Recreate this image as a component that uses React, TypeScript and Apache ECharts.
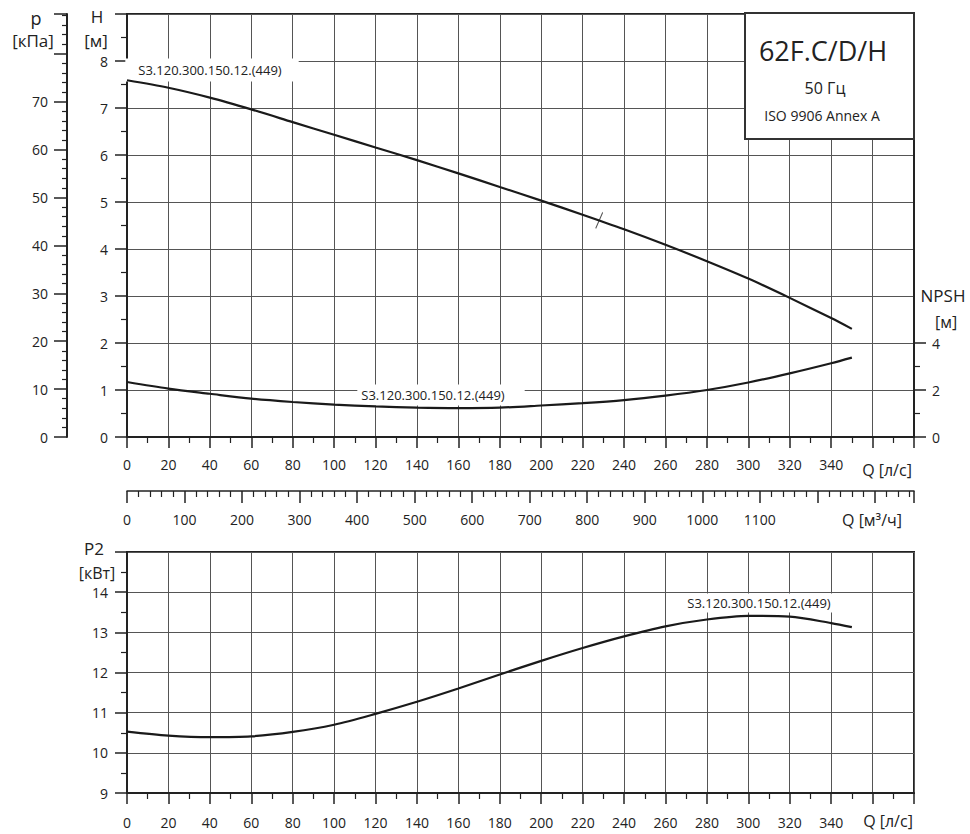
import React, { useEffect, useRef } from "react";
import * as echarts from "echarts";

// Flow rate points [l/s]
const Q = [0, 20, 40, 60, 80, 100, 120, 140, 160, 180, 200, 220, 240, 260, 280, 300, 320, 340, 350];
// Head H [m]
const H = [7.59, 7.43, 7.22, 6.97, 6.7, 6.43, 6.16, 5.89, 5.61, 5.32, 5.03, 4.73, 4.42, 4.09, 3.74, 3.37, 2.96, 2.53, 2.3];
// NPSH [m]
const NPSH = [2.34, 2.06, 1.84, 1.63, 1.49, 1.38, 1.3, 1.25, 1.23, 1.25, 1.34, 1.44, 1.57, 1.76, 2.0, 2.32, 2.71, 3.14, 3.38];
// Power P2 [kW]
const P2 = [10.53, 10.43, 10.39, 10.41, 10.52, 10.7, 10.97, 11.27, 11.6, 11.95, 12.29, 12.61, 12.9, 13.15, 13.32, 13.41, 13.39, 13.23, 13.13];
// Duty point marker
const DUTY = [[228, 4.61]];

const CURVE_NAME = "S3.120.300.150.12.(449)";
const MODEL = "62F.C/D/H";
const FREQ = "50 Гц";
const NORM = "ISO 9906 Annex A";

const Q_MAX = 380; // l/s
const Q_LABEL_MAX = 340;
const QM3_MAX = Q_MAX * 3.6; // m3/h
const QM3_LABEL_MAX = 1100;
const H_MAX = 9;
const P_MAX = H_MAX * 9.81; // kPa
const P_LABEL_MAX = 70;
const NPSH_MAX = H_MAX * 2;
const NPSH_LABELS = [0, 2, 4];
const NPSH_MINOR = [1, 3];
const P2_MIN = 9;
const P2_MAX = 15;

const FONT = "Open Sans";
const INK = "#222";
const GRIDC = "#555";

export default function App() {
  const ref = useRef<HTMLDivElement>(null);
  useEffect(() => {
    if (!ref.current) return;
    const chart = echarts.init(ref.current, undefined, { renderer: "svg" });
    const zip = (ys: number[]) => Q.map((q, i) => [q, ys[i]]);
    const lbl = (extra: any = {}) => ({
      color: INK,
      fontFamily: FONT,
      fontSize: 14,
      ...extra,
    });
    const xCommon = (grid: number, margin: number) => ({
      type: "value",
      gridIndex: grid,
      min: 0,
      max: Q_MAX,
      interval: 20,
      position: "bottom",
      axisLine: { show: true, onZero: false, lineStyle: { color: INK, width: 2 } },
      axisTick: { show: true, length: 11, lineStyle: { color: INK, width: 1.5 } },
      minorTick: { show: true, splitNumber: 2, length: 6, lineStyle: { color: INK, width: 1.2 } },
      axisLabel: lbl({ margin, formatter: (v: number) => (v <= Q_LABEL_MAX ? String(v) : "") }),
      splitLine: { show: true, lineStyle: { color: GRIDC, width: 1 } },
    });
    const title = (text: string, x: number, y: number, size: number, z = 5) => ({
      type: "text",
      x,
      y,
      z,
      style: {
        text,
        fill: INK,
        font: `${size}px "${FONT}"`,
        textAlign: "center",
        textVerticalAlign: "middle",
      },
    });
    const curveLabel = (x: number, y: number, padding: number[]) => ({
      type: "text",
      x,
      y,
      z: 1,
      style: {
        text: CURVE_NAME,
        fill: INK,
        font: `13px "${FONT}"`,
        textAlign: "center",
        textVerticalAlign: "middle",
        backgroundColor: "#fff",
        padding,
      },
    });

    const option: any = {
      animation: false,
      grid: [
        { left: 127, top: 14, width: 787, height: 423, show: true, borderColor: INK, borderWidth: 2, backgroundColor: "transparent" },
        { left: 127, top: 490, width: 787, height: 1, show: false },
        { left: 127, top: 552, width: 787, height: 241, show: true, borderColor: INK, borderWidth: 2, backgroundColor: "transparent" },
      ],
      xAxis: [
        xCommon(0, 20),
        {
          type: "value",
          gridIndex: 1,
          min: 0,
          max: QM3_MAX,
          interval: 100,
          position: "bottom",
          axisLine: { show: true, onZero: false, lineStyle: { color: INK, width: 1.5 } },
          axisTick: { show: true, length: 12, lineStyle: { color: INK, width: 1.5 } },
          minorTick: { show: true, splitNumber: 5, length: 6, lineStyle: { color: INK, width: 1.2 } },
          axisLabel: lbl({ margin: 21, formatter: (v: number) => (v <= QM3_LABEL_MAX ? String(v) : "") }),
          splitLine: { show: false },
        },
        xCommon(2, 22),
      ],
      yAxis: [
        {
          type: "value",
          gridIndex: 0,
          min: 0,
          max: H_MAX,
          interval: 1,
          position: "left",
          axisLine: { show: true, lineStyle: { color: INK, width: 2 } },
          axisTick: { show: true, length: 12, lineStyle: { color: INK, width: 1.5 } },
          minorTick: { show: true, splitNumber: 2, length: 6, lineStyle: { color: INK, width: 1.2 } },
          axisLabel: lbl({ margin: 19, formatter: (v: number) => (v < H_MAX ? String(v) : "") }),
          splitLine: { show: true, lineStyle: { color: GRIDC, width: 1 } },
        },
        {
          type: "value",
          gridIndex: 0,
          min: 0,
          max: P_MAX,
          interval: 10,
          position: "left",
          offset: 60,
          axisLine: { show: true, lineStyle: { color: INK, width: 2 } },
          axisTick: { show: true, length: 13, lineStyle: { color: INK, width: 1.5 } },
          minorTick: { show: true, splitNumber: 5, length: 5, lineStyle: { color: INK, width: 1.2 } },
          axisLabel: lbl({ margin: 19, formatter: (v: number) => (v <= P_LABEL_MAX ? String(v) : "") }),
          splitLine: { show: false },
        },
        {
          type: "value",
          gridIndex: 0,
          min: 0,
          max: NPSH_MAX,
          interval: 2,
          position: "right",
          axisLine: { show: true, lineStyle: { color: INK, width: 2 } },
          axisTick: { show: true, length: 12, customValues: NPSH_LABELS, lineStyle: { color: INK, width: 1.5 } },
          axisLabel: lbl({ margin: 18, customValues: NPSH_LABELS }),
          splitLine: { show: false },
        },
        {
          type: "value",
          gridIndex: 0,
          min: 0,
          max: NPSH_MAX,
          interval: 2,
          position: "right",
          axisLine: { show: false },
          axisTick: { show: true, length: 6, customValues: NPSH_MINOR, lineStyle: { color: INK, width: 1.2 } },
          axisLabel: { show: false },
          splitLine: { show: false },
        },
        { type: "value", gridIndex: 1, min: 0, max: 1, show: false },
        {
          type: "value",
          gridIndex: 2,
          min: P2_MIN,
          max: P2_MAX,
          interval: 1,
          position: "left",
          axisLine: { show: true, onZero: false, lineStyle: { color: INK, width: 2 } },
          axisTick: { show: true, length: 12, lineStyle: { color: INK, width: 1.5 } },
          minorTick: { show: true, splitNumber: 2, length: 6, lineStyle: { color: INK, width: 1.2 } },
          axisLabel: lbl({ margin: 19, formatter: (v: number) => (v < P2_MAX ? String(v) : "") }),
          splitLine: { show: true, lineStyle: { color: GRIDC, width: 1 } },
        },
      ],
      series: [
        {
          type: "line",
          xAxisIndex: 0,
          yAxisIndex: 0,
          data: zip(H),
          smooth: 0.3,
          showSymbol: false,
          lineStyle: { color: "#1a1a1a", width: 2.2 },
          z: 3,
        },
        {
          type: "line",
          xAxisIndex: 0,
          yAxisIndex: 2,
          data: zip(NPSH),
          smooth: 0.3,
          showSymbol: false,
          lineStyle: { color: "#1a1a1a", width: 2.2 },
          z: 3,
        },
        {
          type: "scatter",
          xAxisIndex: 0,
          yAxisIndex: 0,
          data: DUTY,
          symbol: "path://M0,16L7,0",
          symbolSize: [7, 16],
          itemStyle: { color: "transparent", borderColor: INK, borderWidth: 1.2 },
          z: 4,
        },
        {
          type: "line",
          xAxisIndex: 2,
          yAxisIndex: 5,
          data: zip(P2),
          smooth: 0.3,
          showSymbol: false,
          lineStyle: { color: "#1a1a1a", width: 2.2 },
          z: 3,
        },
      ],
      graphic: [
        curveLabel(212, 70, [8, 17, 2, 13]),
        curveLabel(441, 395, [5, 20, 3, 4]),
        curveLabel(759, 603, [3, 4, 3, 4]),
        {
          type: "rect",
          z: 10,
          shape: { x: 745, y: 13, width: 169, height: 126 },
          style: { fill: "#fff", stroke: "#333", lineWidth: 2 },
        },
        title(MODEL, 823, 50, 27, 11),
        title(FREQ, 825, 88, 16, 11),
        title(NORM, 822, 115, 14, 11),
        title("p", 36, 18, 18),
        title("[кПа]", 33, 40, 17),
        title("H", 97, 16, 17),
        title("[м]", 96, 40, 17),
        title("NPSH", 943, 295, 17),
        title("[м]", 946, 322, 16),
        title("Q [л/с]", 887, 470, 16),
        title("Q [м³/ч]", 872, 520, 16),
        title("P2", 94, 548, 17),
        title("[кВт]", 97, 573, 16),
        title("Q [л/с]", 888, 821, 16),
      ],
    };
    chart.setOption(option);
    return () => chart.dispose();
  }, []);
  return <div ref={ref} style={{ width: 970, height: 834, position: "absolute", left: 0, top: 0 }} />;
}
